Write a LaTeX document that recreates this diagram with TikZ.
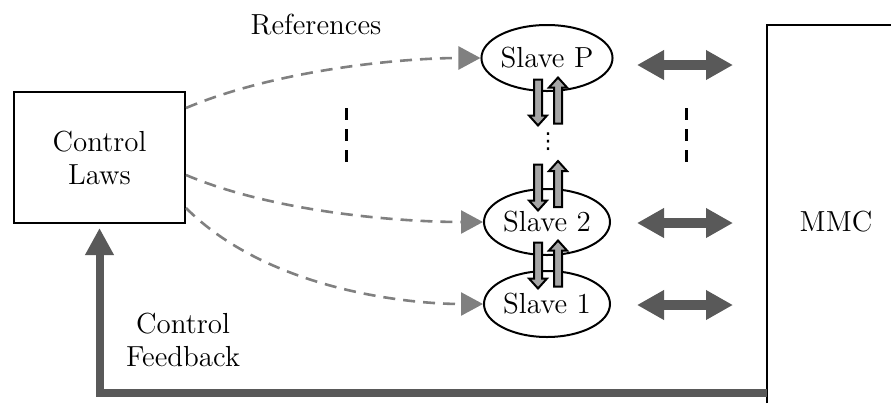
\documentclass[tikz,border=0pt]{standalone}
\usepackage{fontspec}
\newfontfamily\dotsfont{DejaVu Sans}
\usetikzlibrary{arrows.meta,shapes.geometric}
\definecolor{darkarrow}{HTML}{595959}
\definecolor{refgray}{HTML}{808080}
\definecolor{sigfill}{HTML}{A6A6A6}
\tikzset{
  refline/.style={refgray, line width=1.3pt, dash pattern=on 6pt off 4pt,
    -{Triangle[length=11pt,width=11.5pt]}},
  bidir/.style={darkarrow, line width=5pt,
    {Triangle[length=13.5pt,width=14pt]}-{Triangle[length=13.5pt,width=14pt]}},
  feedback/.style={darkarrow, line width=4pt,
    -{Triangle[length=13.5pt,width=13.5pt]}, shorten >=2pt},
  vdash/.style={line width=1.5pt, dash pattern=on 6pt off 4.5pt},
  slave/.style={draw, ellipse, line width=1pt, minimum width=63pt,
    minimum height=33pt, inner sep=0pt},
  fatarrow/.pic={\draw[line width=1pt, fill=sigfill] (-4,-23) -- (4,-23) -- (4,13)
    -- (9,13) -- (0,23) -- (-9,13) -- (-4,13) -- cycle;},
}
\begin{document}
\begin{tikzpicture}[x=0.5pt,y=-0.5pt,
    every node/.style={font=\fontsize{14.5}{16.5}\selectfont}]
     \useasboundingbox (0,0) rectangle (891,403);

     % controller and converter
     \node[draw, line width=1pt, minimum width=85.5pt, minimum height=65.5pt,
       align=center] (laws) at (99.5,157.5) {Control\\Laws};
     \draw[line width=1pt] (767,403) -- (767,25) -- (891,25);
     \node (mmc) at (836,222) {MMC};

     % slaves
     \node[slave] (sP) at (547,58) {Slave P};
     \node[slave] (s2) at (547,222) {Slave 2};
     \node[slave] (s1) at (547,304) {Slave 1};
     \node[inner sep=0pt] (dots) at (548,142) {\dotsfont\fontsize{11}{11}\selectfont ⋮};

     \pic (dnP) at (538,102.5) {fatarrow};
     \pic[rotate=180] (upP) at (558,100.5) {fatarrow};
     \pic (dnT) at (538,187.5) {fatarrow};
     \pic[rotate=180] (upT) at (558,184) {fatarrow};
     \pic (dnO) at (538,265.5) {fatarrow};
     \pic[rotate=180] (upO) at (558,263.5) {fatarrow};

     % references
     \node (refs) at (316,25) {References};
     \draw[refline] ([yshift=24.75pt]laws.east) .. controls +(90,-38) and +(-80,0) .. (sP.west);
     \draw[refline] ([yshift=-8.75pt]laws.east) .. controls +(90,38) and +(-80,0) .. (s2.west);
     \draw[refline] ([yshift=-25.25pt]laws.east) .. controls +(80,80) and +(-80,0) .. (s1.west);

     \draw[vdash] (346,108) -- (346,162);
     \draw[vdash] (686,108) -- (686,162);

     % links to the converter
     \coordinate (pl) at (637,65);
     \coordinate (pr) at (733,65);
     \coordinate (tl) at (637,223);
     \coordinate (tr) at (733,223);
     \coordinate (ol) at (637,305);
     \coordinate (or) at (733,305);
     \draw[bidir] (pl) -- (pr);
     \draw[bidir] (tl) -- (tr);
     \draw[bidir] (ol) -- (or);

     % feedback
     \coordinate (fb) at (767,393);
     \draw[feedback] (fb) -| (laws.south);
     \node[align=center] (fblabel) at (183,340) {Control\\Feedback};
\end{tikzpicture}
\end{document}
